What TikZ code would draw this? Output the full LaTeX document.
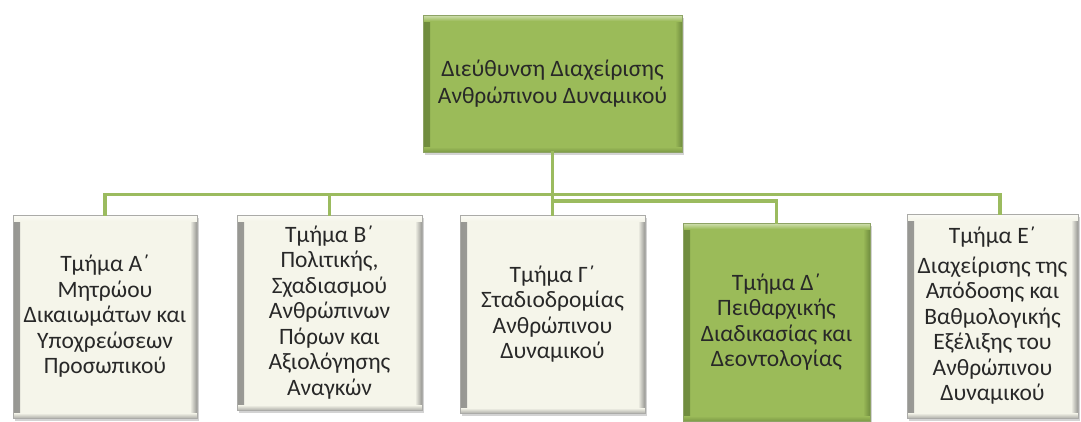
\documentclass[tikz,border=0pt]{standalone}
\usepackage{fontspec}
\setmainfont{Carlito}
\usetikzlibrary{shadows}
\definecolor{hrgreen}{RGB}{155,187,89}
\definecolor{hrgreenedge}{RGB}{112,140,62}
\definecolor{cream}{RGB}{245,245,234}
\definecolor{creamedge}{RGB}{150,150,146}
\definecolor{txt}{RGB}{40,40,40}
\definecolor{conn}{RGB}{155,187,95}
\tikzset{
  orgbox/.style n args={2}{
    fill=#1, draw=#2!80!white, line width=0.6pt,
    drop shadow={opacity=0.35, shadow xshift=2pt, shadow yshift=-2.5pt},
    path picture={
      \shade[left color=#2, right color=#1]
        (path picture bounding box.south west) rectangle ([xshift=7pt]path picture bounding box.north west);
      \shade[left color=#1, right color=#2]
        ([xshift=-7pt]path picture bounding box.south east) rectangle (path picture bounding box.north east);
      \shade[top color=white!55!#1, bottom color=#1]
        (path picture bounding box.north west) rectangle ([yshift=-6pt]path picture bounding box.north east);
      \shade[top color=#1, bottom color=#2!70!#1]
        ([yshift=5pt]path picture bounding box.south west) rectangle (path picture bounding box.south east);
    },
    text=txt, align=center, inner sep=0pt,
    font=\fontsize{23.5}{25.5}\selectfont
  },
  greenbox/.style={orgbox={hrgreen}{hrgreenedge}},
  creambox/.style={orgbox={cream}{creamedge}},
  link/.style={draw=conn, line width=3.2pt, line cap=rect}
}
\begin{document}
\begin{tikzpicture}[x=1pt,y=-1pt]
\useasboundingbox (0,0) rectangle (1081,421);

\coordinate (busB) at (552.5,194.5);
\coordinate (busD) at (552.5,201);
\coordinate (Etop) at (1000,214);

\node[greenbox, minimum width=259pt, minimum height=137pt] (top) at (552.5,83.5)
  {Διεύθυνση Διαχείρισης\\[1.5pt]Ανθρώπινου Δυναμικού};

\node[creambox, minimum width=184pt, minimum height=203pt] (A) at (105,316.5)
  {Τμήμα Α΄\\Μητρώου\\Δικαιωμάτων και\\Υποχρεώσεων\\Προσωπικού};
\node[creambox, minimum width=185pt, minimum height=195pt] (B) at (329.5,312.5)
  {Τμήμα Β΄\\Πολιτικής,\\Σχαδιασμού\\Ανθρώπινων\\Πόρων και\\Αξιολόγησης\\Αναγκών};
\node[creambox, minimum width=185pt, minimum height=198pt] (G) at (552.5,314)
  {Τμήμα Γ΄\\Σταδιοδρομίας\\Ανθρώπινου\\Δυναμικού};
\node[greenbox, minimum width=187pt, minimum height=198pt] (D) at (776.5,322)
  {Τμήμα Δ΄\\Πειθαρχικής\\Διαδικασίας και\\Δεοντολογίας};
\node[creambox, minimum width=171pt, minimum height=204pt] (E) at (992.5,316)
  {Τμήμα Ε΄\\[4pt]Διαχείρισης της\\Απόδοσης και\\Βαθμολογικής\\Εξέλιξης του\\Ανθρώπινου\\Δυναμικού};

\path[link] (top.south) -- (busB);
\path[link] (busB) -| (A.north);
\path[link] (busB) -| (B.north);
\path[link] (top.south) -- (G.north);
\path[link] (busB) -| (E.north -| Etop);
\path[link] (busD) -| (D.north);
\end{tikzpicture}
\end{document}
